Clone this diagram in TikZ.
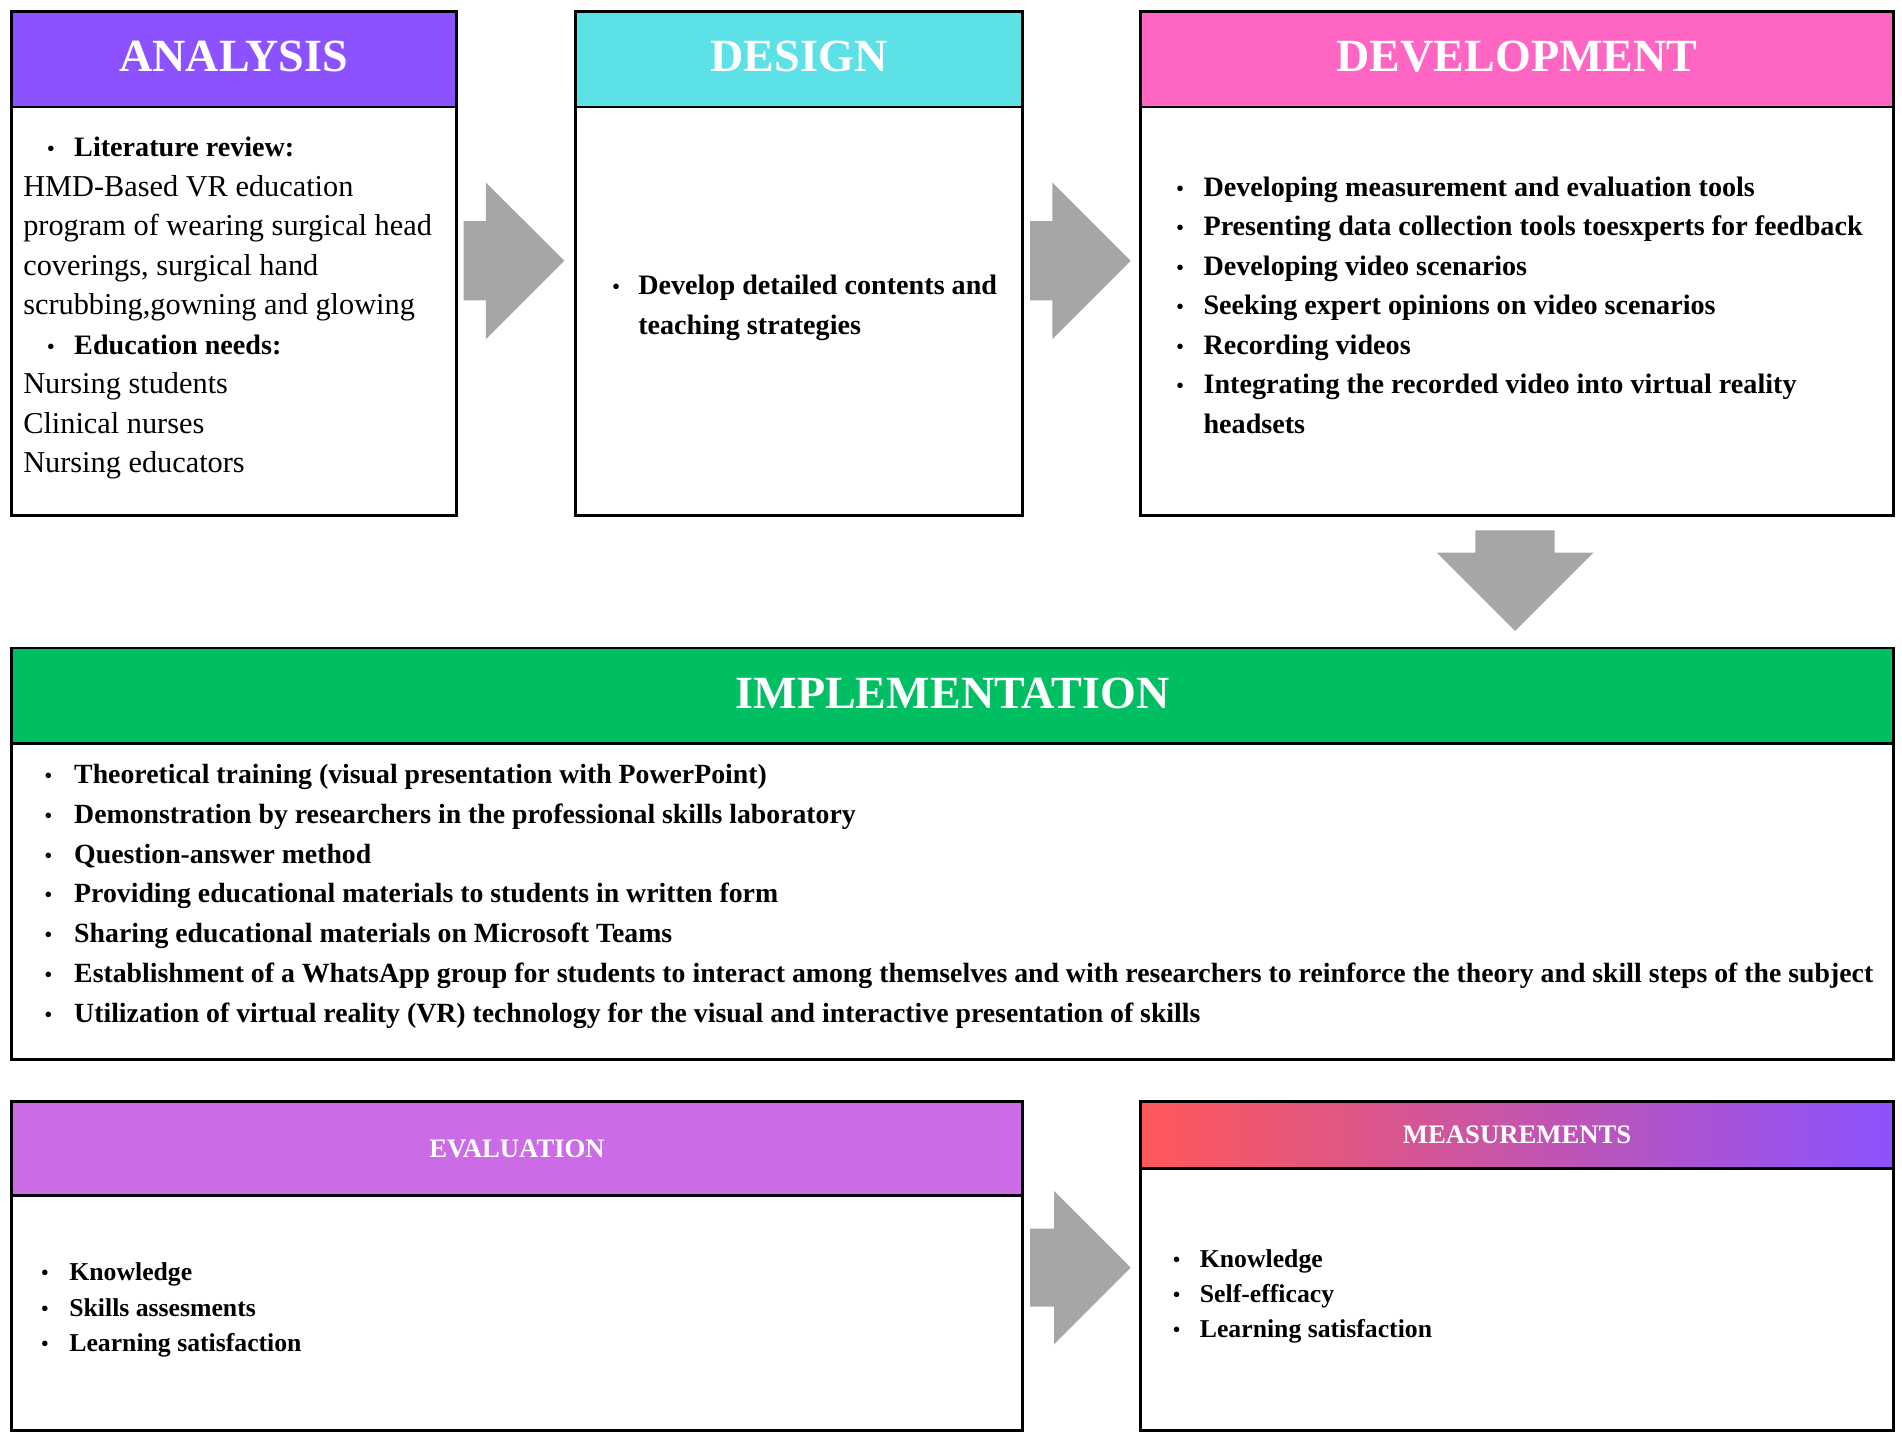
\documentclass[tikz,border=0pt]{standalone}
\usepackage{fontspec}
\setmainfont{Liberation Serif}
\usetikzlibrary{shapes.arrows}
\definecolor{analysisc}{HTML}{8C52FF}
\definecolor{designc}{HTML}{5CE1E6}
\definecolor{developc}{HTML}{FF66C4}
\definecolor{implementc}{HTML}{00BF63}
\definecolor{evaluatec}{HTML}{CB6CE6}
\definecolor{measleft}{HTML}{FF5757}
\definecolor{measright}{HTML}{8C52FF}
\definecolor{arrowgray}{HTML}{A6A6A6}
\tikzset{
  phase/.style={draw=black, line width=2.4pt, inner sep=0pt, anchor=north west},
  title/.style={phase, text=white, text depth=0.5em, font=\bfseries\fontsize{38}{40}\selectfont},
  smalltitle/.style={phase, text=white, font=\bfseries\fontsize{22}{24}\selectfont},
  item/.style={anchor=base west, inner sep=0pt, font=\bfseries\fontsize{23.2}{28}\selectfont},
  impitem/.style={item, font=\bfseries\fontsize{22.9}{28}\selectfont},
  plainitem/.style={item, font=\fontsize{25}{28}\selectfont},
  smallitem/.style={item, font=\bfseries\fontsize{21.2}{26}\selectfont},
  dot/.style={anchor=base, inner sep=0pt, font=\fontsize{19}{19}\selectfont},
  blockarrow/.style={single arrow, fill=arrowgray, draw=none, inner xsep=0pt, inner ysep=32.5pt,
    minimum height=83pt, single arrow head extend=32pt, anchor=tail}
}
\begin{document}
\begin{tikzpicture}[x=1pt,y=-1pt]
  \useasboundingbox (0,0) rectangle (1568,1188);
  % boxes
  \node[phase, minimum width=367pt, minimum height=337pt] (ana-body) at (8,87) {};
  \node[title, fill=analysisc, minimum width=367pt, minimum height=79pt] (ana-head) at (8,8) {ANALYSIS};
  \node[phase, minimum width=369pt, minimum height=337pt] (des-body) at (473,87) {};
  \node[title, fill=designc, minimum width=369pt, minimum height=79pt] (des-head) at (473,8) {DESIGN};
  \node[phase, minimum width=621pt, minimum height=337pt] (dev-body) at (939,87) {};
  \node[title, fill=developc, minimum width=621pt, minimum height=79pt] (dev-head) at (939,8) {DEVELOPMENT};
  \node[phase, minimum width=1552pt, minimum height=260pt] (imp-body) at (8,612) {};
  \node[title, fill=implementc, minimum width=1552pt, minimum height=79pt] (imp-head) at (8,533) {IMPLEMENTATION};
  \node[phase, minimum width=834pt, minimum height=194pt] (eva-body) at (8,984) {};
  \node[smalltitle, fill=evaluatec, minimum width=834pt, minimum height=77pt] (eva-head) at (8,907) {EVALUATION};
  \node[phase, minimum width=621pt, minimum height=216pt] (mea-body) at (939,962) {};
  \node[smalltitle, left color=measleft, right color=measright, minimum width=621pt, minimum height=55pt] (mea-head) at (939,907) {MEASUREMENTS};

  % arrows
  \node[blockarrow] (ana-des) at (382,215) {};
  \node[blockarrow] (des-dev) at (849,215) {};
  \node[blockarrow, rotate=-90] (dev-imp) at (1249,437) {};
  \node[blockarrow, inner ysep=32pt, single arrow head extend=31pt] (eva-mea) at (849,1045) {};

  % analysis
  \node[dot] (ana-dot-0) at (42,129) {\textbullet};
  \node[item] (ana-0) at (61,129) {Literature review:};
  \foreach \t [count=\i from 1] in {{HMD-Based VR education}, {program of wearing surgical head},
      {coverings, surgical hand}, {scrubbing,gowning and glowing}}
    \node[plainitem] (ana-\i) at (19,129+\i*32.6) {\t};
  \node[dot] (ana-dot-5) at (42,292) {\textbullet};
  \node[item] (ana-5) at (61,292) {Education needs:};
  \foreach \t [count=\i from 6] in {Nursing students, Clinical nurses, Nursing educators}
    \node[plainitem] (ana-\i) at (19,129+\i*32.6) {\t};

  % design
  \node[dot] (des-dot-0) at (508,243) {\textbullet};
  \node[item] (des-0) at (526,243) {Develop detailed contents and};
  \node[item] (des-1) at (526,276) {teaching strategies};

  % development
  \foreach \t [count=\i from 0] in {Developing measurement and evaluation tools,
      Presenting data collection tools toesxperts for feedback, Developing video scenarios,
      Seeking expert opinions on video scenarios, Recording videos,
      Integrating the recorded video into virtual reality}
  {
    \node[dot] (dev-dot-\i) at (973,162+\i*32.5) {\textbullet};
    \node[item] (dev-\i) at (992,162+\i*32.5) {\t};
  }
  \node[item] (dev-6) at (992,357) {headsets};

  % implementation
  \foreach \t [count=\i from 0] in {Theoretical training (visual presentation with PowerPoint),
      Demonstration by researchers in the professional skills laboratory,
      Question-answer method,
      Providing educational materials to students in written form,
      Sharing educational materials on Microsoft Teams,
      Establishment of a WhatsApp group for students to interact among themselves and with researchers to reinforce the theory and skill steps of the subject,
      Utilization of virtual reality (VR) technology for the visual and interactive presentation of skills}
  {
    \node[dot] (imp-dot-\i) at (40,646+\i*32.8) {\textbullet};
    \node[impitem] (imp-\i) at (61,646+\i*32.8) {\t};
  }

  % evaluation
  \foreach \t [count=\i from 0] in {Knowledge, Skills assesments, Learning satisfaction}
  {
    \node[dot] (eva-dot-\i) at (37,1056+\i*29) {\textbullet};
    \node[smallitem] (eva-\i) at (57,1056+\i*29) {\t};
  }

  % measurements
  \foreach \t [count=\i from 0] in {Knowledge, Self-efficacy, Learning satisfaction}
  {
    \node[dot] (mea-dot-\i) at (970,1045+\i*29) {\textbullet};
    \node[smallitem] (mea-\i) at (989,1045+\i*29) {\t};
  }
\end{tikzpicture}
\end{document}
